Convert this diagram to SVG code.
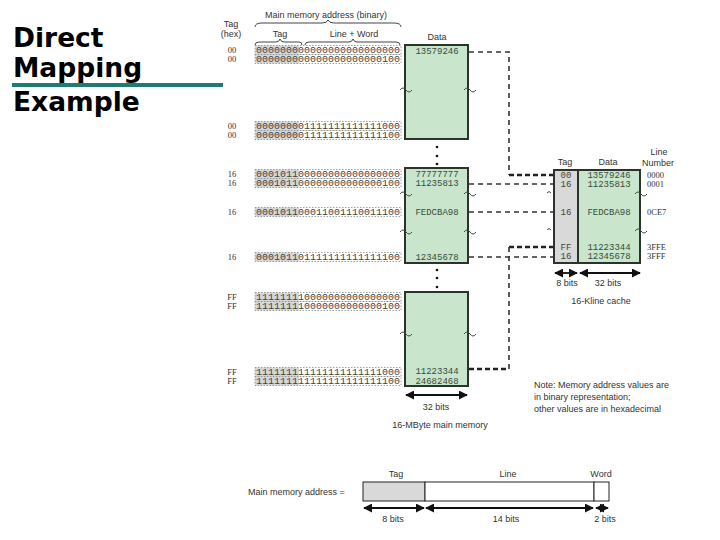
<svg xmlns="http://www.w3.org/2000/svg" width="720" height="540" viewBox="0 0 720 540">
<style>
.title{font-family:"DejaVu Sans","Liberation Sans",Arial,sans-serif;font-weight:bold;font-size:26.5px;fill:#000}
.lbl{font-family:"Liberation Sans",Arial,sans-serif;font-size:9px;fill:#333}
.mono{font-family:"Liberation Mono","DejaVu Sans Mono",monospace;font-size:8.5px;fill:#444}
.hex{font-family:"Liberation Mono","DejaVu Sans Mono",monospace;font-size:9px;fill:#3a4a3a}
.tag{font-family:"Liberation Serif",serif;font-size:8.5px;fill:#333}
.blk{fill:#c9e6cd;stroke:#2b332b;stroke-width:2}
.ctag{fill:#d9d9d9;stroke:#2b332b;stroke-width:2}
.abox{fill:none;stroke:#888;stroke-width:0.8;stroke-dasharray:1.5,1.5}
.agray{fill:#d6d6d6}
.dash{fill:none;stroke:#333;stroke-width:1.6;stroke-dasharray:5,4}
.dashb{fill:none;stroke:#222;stroke-width:2.6;stroke-dasharray:5,3}
.arr{fill:none;stroke:#111;stroke-width:1.8}
.sq{fill:none;stroke:#444;stroke-width:1}
.brace{fill:none;stroke:#444;stroke-width:1}
</style>
<defs>
<marker id="ah" viewBox="0 0 10 10" refX="9" refY="5" markerWidth="5" markerHeight="5" orient="auto-start-reverse"><path d="M0,0 L10,5 L0,10 z" fill="#111"/></marker>
</defs>

<g id="title">
<text class="title" x="13" y="47">Direct</text>
<text class="title" x="13" y="77">Mapping</text>
<rect x="12" y="83" width="211" height="4" fill="#1f7a72"/>
<text class="title" x="13" y="111">Example</text>
</g>

<g id="header">
<text class="lbl" x="231" y="27" text-anchor="middle" font-size="8">Tag</text>
<text class="lbl" x="231" y="37" text-anchor="middle" font-size="8">(hex)</text>
<text class="lbl" x="326" y="18" text-anchor="middle" font-size="8">Main memory address (binary)</text>
<path class="brace" d="M255,27 Q255,23 262,23 L322,23 Q327,23 328,20 Q329,23 334,23 L394,23 Q401,23 401,27"/>
<text class="lbl" x="280" y="37" text-anchor="middle" font-size="8">Tag</text>
<text class="lbl" x="354" y="37" text-anchor="middle" font-size="8">Line + Word</text>
<path class="brace" d="M255,45 Q255,42 259,42 L276,42 Q279,42 280,39 Q281,42 284,42 L299,42 Q302,42 302,45"/>
<path class="brace" d="M305,45 Q305,42 309,42 L349,42 Q352,42 353,39 Q354,42 357,42 L396,42 Q400,42 400,45"/>
</g>

<g id="addresses">
<g id="row-00a"><rect class="agray" x="255" y="45.5" width="44" height="9"/><rect class="abox" x="255" y="45.5" width="146" height="9"/><text class="tag" x="232" y="53" text-anchor="middle">00</text><text class="mono" x="256" y="53" textLength="144" lengthAdjust="spacingAndGlyphs">000000000000000000000000</text></g>
<g id="row-00b"><rect class="agray" x="255" y="54.5" width="44" height="9"/><rect class="abox" x="255" y="54.5" width="146" height="9"/><text class="tag" x="232" y="62" text-anchor="middle">00</text><text class="mono" x="256" y="62" textLength="144" lengthAdjust="spacingAndGlyphs">000000000000000000000100</text></g>
<g id="row-00c"><rect class="agray" x="255" y="121.5" width="44" height="9"/><rect class="abox" x="255" y="121.5" width="146" height="9"/><text class="tag" x="232" y="129" text-anchor="middle">00</text><text class="mono" x="256" y="129" textLength="144" lengthAdjust="spacingAndGlyphs">000000001111111111111000</text></g>
<g id="row-00d"><rect class="agray" x="255" y="130.5" width="44" height="9"/><rect class="abox" x="255" y="130.5" width="146" height="9"/><text class="tag" x="232" y="138" text-anchor="middle">00</text><text class="mono" x="256" y="138" textLength="144" lengthAdjust="spacingAndGlyphs">000000001111111111111100</text></g>
<g id="row-16a"><rect class="agray" x="255" y="169.5" width="44" height="9"/><rect class="abox" x="255" y="169.5" width="146" height="9"/><text class="tag" x="232" y="177" text-anchor="middle">16</text><text class="mono" x="256" y="177" textLength="144" lengthAdjust="spacingAndGlyphs">000101100000000000000000</text></g>
<g id="row-16b"><rect class="agray" x="255" y="178.5" width="44" height="9"/><rect class="abox" x="255" y="178.5" width="146" height="9"/><text class="tag" x="232" y="186" text-anchor="middle">16</text><text class="mono" x="256" y="186" textLength="144" lengthAdjust="spacingAndGlyphs">000101100000000000000100</text></g>
<g id="row-16c"><rect class="agray" x="255" y="207.5" width="44" height="9"/><rect class="abox" x="255" y="207.5" width="146" height="9"/><text class="tag" x="232" y="215" text-anchor="middle">16</text><text class="mono" x="256" y="215" textLength="144" lengthAdjust="spacingAndGlyphs">000101100011001110011100</text></g>
<g id="row-16d"><rect class="agray" x="255" y="252.5" width="44" height="9"/><rect class="abox" x="255" y="252.5" width="146" height="9"/><text class="tag" x="232" y="260" text-anchor="middle">16</text><text class="mono" x="256" y="260" textLength="144" lengthAdjust="spacingAndGlyphs">000101101111111111111100</text></g>
<g id="row-FFa"><rect class="agray" x="255" y="292.5" width="44" height="9"/><rect class="abox" x="255" y="292.5" width="146" height="9"/><text class="tag" x="232" y="300" text-anchor="middle">FF</text><text class="mono" x="256" y="300" textLength="144" lengthAdjust="spacingAndGlyphs">111111110000000000000000</text></g>
<g id="row-FFb"><rect class="agray" x="255" y="301.5" width="44" height="9"/><rect class="abox" x="255" y="301.5" width="146" height="9"/><text class="tag" x="232" y="309" text-anchor="middle">FF</text><text class="mono" x="256" y="309" textLength="144" lengthAdjust="spacingAndGlyphs">111111110000000000000100</text></g>
<g id="row-FFc"><rect class="agray" x="255" y="367.5" width="44" height="9"/><rect class="abox" x="255" y="367.5" width="146" height="9"/><text class="tag" x="232" y="375" text-anchor="middle">FF</text><text class="mono" x="256" y="375" textLength="144" lengthAdjust="spacingAndGlyphs">111111111111111111111000</text></g>
<g id="row-FFd"><rect class="agray" x="255" y="376.5" width="44" height="9"/><rect class="abox" x="255" y="376.5" width="146" height="9"/><text class="tag" x="232" y="384" text-anchor="middle">FF</text><text class="mono" x="256" y="384" textLength="144" lengthAdjust="spacingAndGlyphs">111111111111111111111100</text></g>
</g>

<g id="main-memory">
<text class="lbl" x="437" y="40" text-anchor="middle" font-size="10">Data</text>
<g id="mem-block-1">
<rect class="blk" x="405" y="45" width="63" height="94"/>
<text class="hex" x="437" y="54" text-anchor="middle">13579246</text>
<path class="sq" d="M400,90 q3,-4 6,0 t6,0"/><path class="sq" d="M464,90 q3,-4 6,0 t6,0"/>
</g>
<g id="dots-1" fill="#111"><circle cx="437" cy="147" r="1.3"/><circle cx="437" cy="156" r="1.3"/><circle cx="437" cy="164" r="1.3"/></g>
<g id="mem-block-2">
<rect class="blk" x="405" y="168" width="63" height="95"/>
<text class="hex" x="437" y="177" text-anchor="middle">77777777</text>
<text class="hex" x="437" y="186" text-anchor="middle">11235813</text>
<text class="hex" x="437" y="215" text-anchor="middle">FEDCBA98</text>
<text class="hex" x="437" y="260" text-anchor="middle">12345678</text>
<path class="sq" d="M400,194 q3,-4 6,0 t6,0"/><path class="sq" d="M464,194 q3,-4 6,0 t6,0"/>
<path class="sq" d="M400,232 q3,-4 6,0 t6,0"/><path class="sq" d="M464,232 q3,-4 6,0 t6,0"/>
</g>
<g id="dots-2" fill="#111"><circle cx="437" cy="270" r="1.3"/><circle cx="437" cy="278" r="1.3"/><circle cx="437" cy="287" r="1.3"/></g>
<g id="mem-block-3">
<rect class="blk" x="405" y="292" width="63" height="94"/>
<text class="hex" x="437" y="374" text-anchor="middle">11223344</text>
<text class="hex" x="437" y="384" text-anchor="middle">24682468</text>
<path class="sq" d="M400,334 q3,-4 6,0 t6,0"/><path class="sq" d="M464,334 q3,-4 6,0 t6,0"/>
</g>
<line class="arr" x1="406" y1="395" x2="467" y2="395" marker-start="url(#ah)" marker-end="url(#ah)"/>
<text class="lbl" x="436" y="410" text-anchor="middle">32 bits</text>
<text class="lbl" x="440" y="428" text-anchor="middle">16-MByte main memory</text>
</g>

<g id="connectors">
<path class="dash" d="M469,52 H509 V175"/>
<path class="dashb" d="M509,175 H553"/>
<path class="dash" d="M469,184 H553"/>
<path class="dash" d="M469,212 H553"/>
<path class="dashb" d="M509,247 H553"/>
<path class="dash" d="M469,257 H553"/>
<path class="dash" d="M509,247 V369"/>
<path class="dashb" d="M469,369 H509"/>
</g>

<g id="cache">
<text class="lbl" x="565" y="165" text-anchor="middle">Tag</text>
<text class="lbl" x="608" y="165" text-anchor="middle">Data</text>
<text class="lbl" x="659" y="155" text-anchor="middle">Line</text>
<text class="lbl" x="658" y="166" text-anchor="middle">Number</text>
<rect class="ctag" x="554" y="170" width="24" height="93"/>
<rect class="blk" x="578" y="170" width="62" height="93"/>
<text class="hex" x="566" y="178" text-anchor="middle">00</text>
<text class="hex" x="566" y="187" text-anchor="middle">16</text>
<text class="hex" x="566" y="215" text-anchor="middle">16</text>
<text class="hex" x="566" y="250" text-anchor="middle">FF</text>
<text class="hex" x="566" y="259" text-anchor="middle">16</text>
<text class="hex" x="609" y="178" text-anchor="middle">13579246</text>
<text class="hex" x="609" y="187" text-anchor="middle">11235813</text>
<text class="hex" x="609" y="215" text-anchor="middle">FEDCBA98</text>
<text class="hex" x="609" y="250" text-anchor="middle">11223344</text>
<text class="hex" x="609" y="259" text-anchor="middle">12345678</text>
<text class="tag" x="647" y="178">0000</text>
<text class="tag" x="647" y="187">0001</text>
<text class="tag" x="647" y="215">0CE7</text>
<text class="tag" x="647" y="250">3FFE</text>
<text class="tag" x="647" y="259">3FFF</text>
<path class="sq" d="M547,193 q2,-3 4,0"/><path class="sq" d="M635,194 q3,-4 6,0 t6,0"/>
<path class="sq" d="M547,230 q2,-3 4,0"/><path class="sq" d="M635,231 q3,-4 6,0 t6,0"/>
<line class="arr" x1="555" y1="273" x2="577" y2="273" marker-start="url(#ah)" marker-end="url(#ah)"/>
<line class="arr" x1="580" y1="273" x2="640" y2="273" marker-start="url(#ah)" marker-end="url(#ah)"/>
<text class="lbl" x="567" y="286" text-anchor="middle">8 bits</text>
<text class="lbl" x="608" y="286" text-anchor="middle">32 bits</text>
<text class="lbl" x="601" y="304" text-anchor="middle">16-Kline cache</text>
</g>

<g id="note">
<text class="lbl" x="534" y="388">Note: Memory address values are</text>
<text class="lbl" x="534" y="400">in binary representation;</text>
<text class="lbl" x="534" y="412">other values are in hexadecimal</text>
</g>

<g id="address-format">
<text class="lbl" x="248" y="495" font-size="9.5">Main memory address =</text>
<text class="lbl" x="396" y="477" text-anchor="middle">Tag</text>
<text class="lbl" x="508" y="477" text-anchor="middle">Line</text>
<text class="lbl" x="601" y="477" text-anchor="middle">Word</text>
<rect x="363" y="482" width="62" height="19" fill="#d9d9d9" stroke="#222" stroke-width="1"/>
<rect x="425" y="482" width="169" height="19" fill="#fff" stroke="#222" stroke-width="1"/>
<rect x="594" y="482" width="15" height="19" fill="#fff" stroke="#222" stroke-width="1"/>
<line class="arr" x1="364" y1="508" x2="424" y2="508" marker-start="url(#ah)" marker-end="url(#ah)"/>
<line class="arr" x1="426" y1="508" x2="593" y2="508" marker-start="url(#ah)" marker-end="url(#ah)"/>
<line class="arr" x1="596" y1="508" x2="608" y2="508" marker-start="url(#ah)" marker-end="url(#ah)"/>
<text class="lbl" x="393" y="522" text-anchor="middle">8 bits</text>
<text class="lbl" x="506" y="522" text-anchor="middle">14 bits</text>
<text class="lbl" x="605" y="522" text-anchor="middle">2 bits</text>
</g>
</svg>
